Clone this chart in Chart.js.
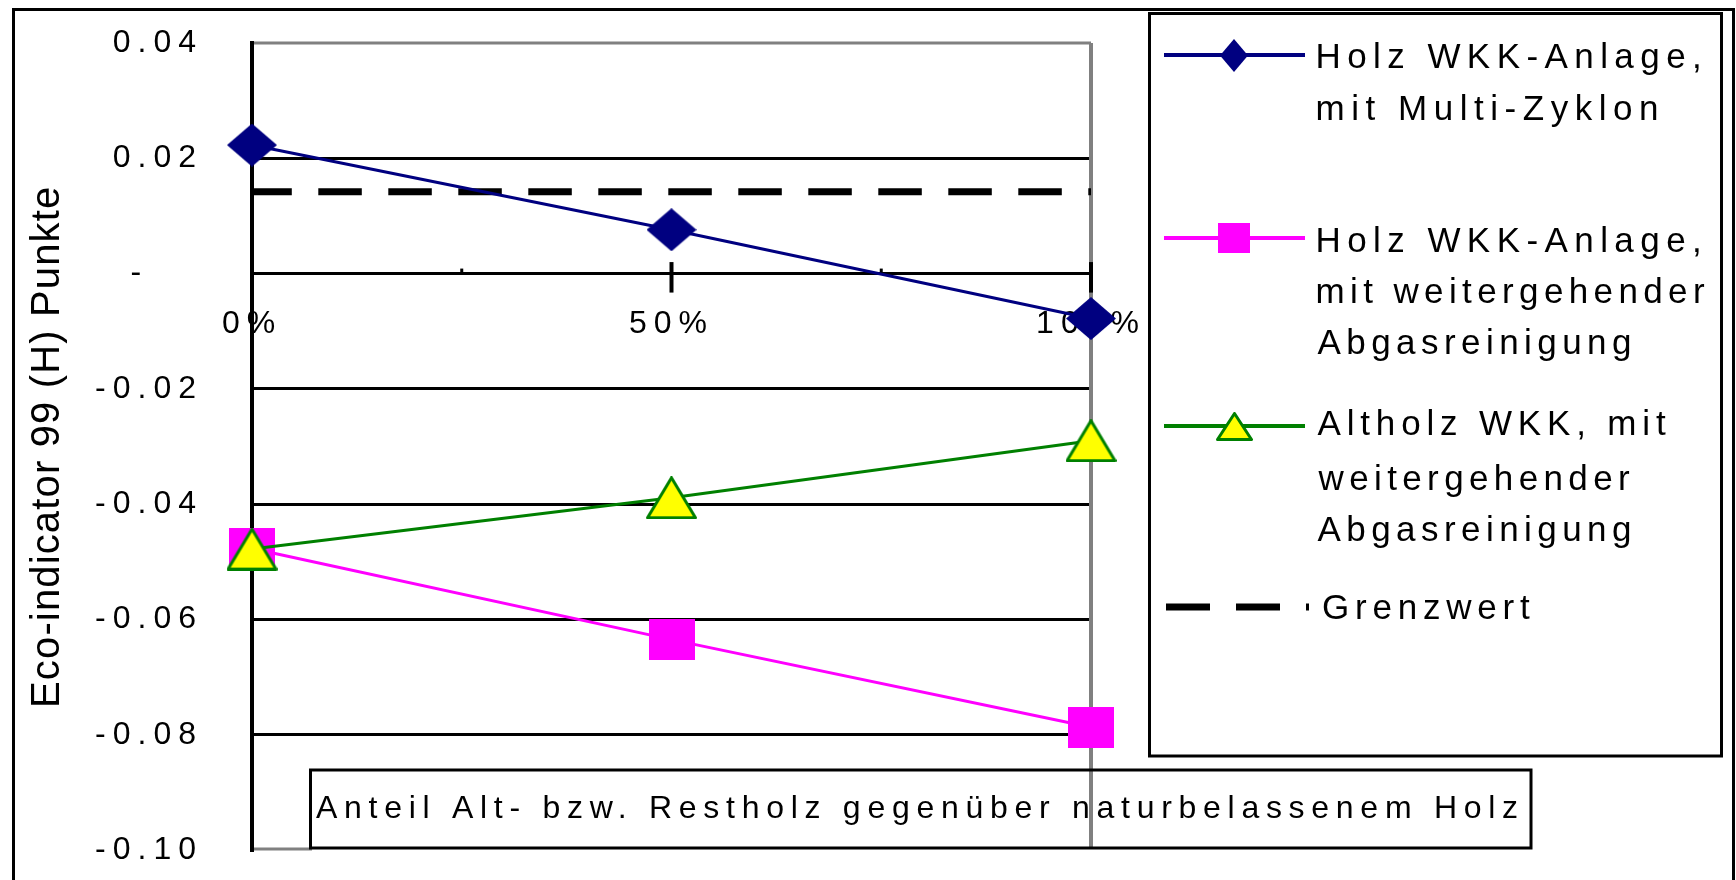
<!DOCTYPE html>
<html>
<head>
<meta charset="utf-8">
<script src="https://cdn.jsdelivr.net/npm/chart.js"></script>
<style>
html,body{margin:0;padding:0;background:#fff;overflow:hidden}
#wrap{position:relative;width:1736px;height:880px;background:#fff}
</style>
</head>
<body>
<div id="wrap"><canvas id="c"></canvas></div>
<script>
// ---------- DATA ----------
const categories = ['0%', '50%', '100%'];
const seriesNames = [
  ['Holz WKK-Anlage,', 'mit Multi-Zyklon'],
  ['Holz WKK-Anlage,', 'mit weitergehender', 'Abgasreinigung'],
  ['Altholz WKK, mit', 'weitergehender', 'Abgasreinigung'],
  ['Grenzwert']
];
const holzMultiZyklon = [0.0223, 0.0076, -0.0078];
const holzAbgasreinigung = [-0.0477, -0.0635, -0.0787];
const altholzAbgasreinigung = [-0.0478, -0.0389, -0.0290];
const grenzwert = [0.0142, 0.0142, 0.0142];
const yTickValues = [0.04, 0.02, 0, -0.02, -0.04, -0.06, -0.08, -0.10];
const yAxisTitle = 'Eco-indicator 99 (H) Punkte';
const xAxisTitle = 'Anteil Alt- bzw. Restholz gegenüber naturbelassenem Holz';

// ---------- STYLE / LAYOUT ----------
const FAMILY = "'Liberation Sans', Arial, sans-serif";
const TICK_SPACING = 7;
const NAVY = '#000080', MAGENTA = '#FF00FF', GREEN = '#008000', YELLOW = '#FFFF00';
const AREA = { left: 252, top: 43, right: 1091, bottom: 850 };

function makeMarker(w, h, draw) {
  const c = document.createElement('canvas');
  c.width = w; c.height = h;
  draw(c.getContext('2d'), w, h);
  return c;
}
function diamond(w, h, color) {
  return makeMarker(w, h, (g) => {
    g.fillStyle = color; g.beginPath();
    g.moveTo(w / 2, 0); g.lineTo(w, h / 2); g.lineTo(w / 2, h); g.lineTo(0, h / 2);
    g.closePath(); g.fill();
  });
}
function square(w, h, color) {
  return makeMarker(w, h, (g) => { g.fillStyle = color; g.fillRect(0, 0, w, h); });
}
function triangle(w, h, fill, stroke, lw) {
  return makeMarker(w, h, (g) => {
    g.beginPath();
    g.moveTo(w / 2, lw / 2); g.lineTo(w - lw / 2, h - lw / 2); g.lineTo(lw / 2, h - lw / 2);
    g.closePath();
    g.fillStyle = fill; g.fill();
    g.lineJoin = 'round'; g.lineWidth = lw; g.strokeStyle = stroke; g.stroke();
  });
}
const markers = [
  diamond(50, 43, NAVY),
  square(46, 41, MAGENTA),
  triangle(51, 43, YELLOW, GREEN, 3)
];
const legendMarkers = [
  diamond(28, 33, NAVY),
  square(32, 30, MAGENTA),
  triangle(37, 29, YELLOW, GREEN, 3)
];
const seriesColors = [NAVY, MAGENTA, GREEN];

function fitText(ctx, text, size, left, right, baseline) {
  ctx.font = size + 'px ' + FAMILY;
  ctx.letterSpacing = '0px';
  ctx.textAlign = 'left';
  ctx.textBaseline = 'alphabetic';
  const m = ctx.measureText(text);
  const w0 = m.actualBoundingBoxLeft + m.actualBoundingBoxRight;
  const n = Array.from(text).length;
  const s = n > 1 ? (right - left - w0) / (n - 1) : 0;
  ctx.letterSpacing = s.toFixed(2) + 'px';
  ctx.fillText(text, left + m.actualBoundingBoxLeft, baseline);
}

function seg(ctx, x1, y1, x2, y2) {
  ctx.beginPath(); ctx.moveTo(x1, y1); ctx.lineTo(x2, y2); ctx.stroke();
}

const decor = {
  id: 'decor',
  beforeDraw(chart) {
    chart.ctx.letterSpacing = TICK_SPACING + 'px';
  },
  beforeDatasetsDraw(chart) {
    const { ctx, chartArea: a, scales: { x, y } } = chart;
    ctx.save();
    ctx.letterSpacing = '0px';
    ctx.strokeStyle = '#808080';
    ctx.lineWidth = 3;
    seg(ctx, a.left + 2, a.top, a.right, a.top);
    seg(ctx, a.left + 2, a.bottom - 1, 312, a.bottom - 1);
    ctx.lineWidth = 4;
    seg(ctx, a.right, a.top, a.right, a.bottom - 2);
    // category axis on the zero line: cross tick marks and labels
    const y0 = y.getPixelForValue(0);
    ctx.strokeStyle = '#000';
    ctx.lineWidth = 4;
    categories.forEach((c, i) => {
      const px = x.getPixelForValue(i);
      seg(ctx, px, y0 - 11.5, px, y0 + 19);
    });
    ctx.lineWidth = 3;
    for (let i = 0; i < categories.length - 1; i++) {
      const px = (x.getPixelForValue(i) + x.getPixelForValue(i + 1)) / 2;
      seg(ctx, px, y0 - 5, px, y0);
    }
    ctx.font = '32px ' + FAMILY;
    ctx.letterSpacing = TICK_SPACING + 'px';
    ctx.fillStyle = '#000';
    ctx.textAlign = 'center';
    ctx.textBaseline = 'alphabetic';
    categories.forEach((c, i) => {
      ctx.fillText(c, x.getPixelForValue(i), y0 + 59.5);
    });
    ctx.restore();
  },
  afterDraw(chart) {
    const ctx = chart.ctx;
    ctx.save();
    ctx.letterSpacing = '0px';
    ctx.strokeStyle = '#000';
    ctx.fillStyle = '#000';
    ctx.lineWidth = 3;
    // outer frame
    ctx.beginPath();
    ctx.moveTo(13.5, 880); ctx.lineTo(13.5, 9.5); ctx.lineTo(1733.5, 9.5); ctx.lineTo(1733.5, 880);
    ctx.stroke();
    // legend box
    ctx.strokeRect(1149.5, 13.5, 1721.5 - 1149.5, 756 - 13.5);
    // x title box
    ctx.strokeRect(310.5, 770, 1531 - 310.5, 848 - 770);

    // x axis title
    fitText(ctx, xAxisTitle, 32, 316, 1517, 818);

    // y axis title (rotated)
    ctx.save();
    ctx.translate(59, 705);
    ctx.rotate(-Math.PI / 2);
    fitText(ctx, yAxisTitle, 40, 0, 517, 0);
    ctx.restore();

    // legend
    const markerY = [55, 238, 426, 607];
    const textY = [[55, 107], [239, 290, 341], [422, 477, 528], [606]];
    const textRight = [[1699, 1657], [1699, 1705, 1630], [1666, 1630, 1630], [1530]];
    const textLeft = [1317.5, 1317.5, 1317.5, 1323];
    for (let i = 0; i < 3; i++) {
      const my = markerY[i];
      ctx.strokeStyle = seriesColors[i];
      ctx.lineWidth = 4;
      ctx.setLineDash([]);
      seg(ctx, 1164, my, 1305, my);
      const mk = legendMarkers[i];
      ctx.drawImage(mk, Math.round(1234 - mk.width / 2), Math.round(my - mk.height / 2));
    }
    ctx.strokeStyle = '#000';
    ctx.lineWidth = 7;
    ctx.setLineDash([44, 26]);
    seg(ctx, 1166, markerY[3], 1309, markerY[3]);
    ctx.setLineDash([]);
    ctx.fillStyle = '#000';
    seriesNames.forEach((lines, i) => {
      lines.forEach((t, k) => {
        fitText(ctx, t, 35, textLeft[i], textRight[i][k], textY[i][k] + 12.5);
      });
    });
    ctx.restore();
  }
};

Chart.defaults.font.family = FAMILY;
Chart.defaults.color = '#000';

const isEdge = (v) => Math.abs(v - 0.04) < 1e-9 || Math.abs(v + 0.1) < 1e-9;
const pad = { left: 0, top: AREA.top, right: 1736 - AREA.right, bottom: 880 - AREA.bottom };

const chart = new Chart(document.getElementById('c'), {
  type: 'line',
  data: {
    labels: categories,
    datasets: [
      { label: seriesNames[0].join(' '), data: holzMultiZyklon, borderColor: NAVY, backgroundColor: NAVY,
        borderWidth: 3, pointStyle: markers[0], pointRadius: 25, pointHoverRadius: 25, order: 0, clip: false, tension: 0 },
      { label: seriesNames[1].join(' '), data: holzAbgasreinigung, borderColor: MAGENTA, backgroundColor: MAGENTA,
        borderWidth: 3, pointStyle: markers[1], pointRadius: 25, pointHoverRadius: 25, order: 2, clip: false, tension: 0 },
      { label: seriesNames[2].join(' '), data: altholzAbgasreinigung, borderColor: GREEN, backgroundColor: YELLOW,
        borderWidth: 3, pointStyle: markers[2], pointRadius: 25, pointHoverRadius: 25, order: 1, clip: false, tension: 0 },
      { label: seriesNames[3][0], data: grenzwert, borderColor: '#000', backgroundColor: '#000',
        borderWidth: 7, borderDash: [43.5, 26.5], borderDashOffset: 3.7, pointRadius: 0, pointHoverRadius: 0,
        order: 3, clip: false, tension: 0 }
    ]
  },
  options: {
    responsive: true,
    maintainAspectRatio: false,
    animation: false,
    events: [],
    layout: { padding: pad, autoPadding: false },
    plugins: { legend: { display: false }, tooltip: { enabled: false }, title: { display: false } },
    scales: {
      x: {
        type: 'category',
        offset: false,
        display: false
      },
      y: {
        min: -0.1,
        max: 0.04,
        afterBuildTicks: (s) => { s.ticks = yTickValues.map(v => ({ value: v })); },
        afterFit: (s) => { s.width = AREA.left; s.paddingTop = 0; s.paddingBottom = 0; },
        grid: {
          color: (c) => (c.tick && isEdge(c.tick.value)) ? 'rgba(0,0,0,0)' : '#000',
          lineWidth: 3,
          drawTicks: false
        },
        border: { display: true, color: '#000', width: 4 },
        ticks: {
          font: { size: 32 },
          color: '#000',
          padding: 49,
          callback: (v) => Math.abs(v) < 1e-9 ? '-\u2002  ' : Number(v).toFixed(2)
        }
      }
    }
  },
  plugins: [decor]
});

// make the plot area land exactly on the reference position
for (let k = 0; k < 4; k++) {
  const a = chart.chartArea;
  const dl = AREA.left - a.left, dt = AREA.top - a.top;
  const dr = a.right - AREA.right, db = a.bottom - AREA.bottom;
  if (Math.abs(dl) + Math.abs(dt) + Math.abs(dr) + Math.abs(db) < 0.5) break;
  pad.left += dl; pad.top += dt; pad.right += dr; pad.bottom += db;
  chart.config.options.layout.padding = Object.assign({}, pad);
  chart.update();
}
</script>
</body>
</html>
